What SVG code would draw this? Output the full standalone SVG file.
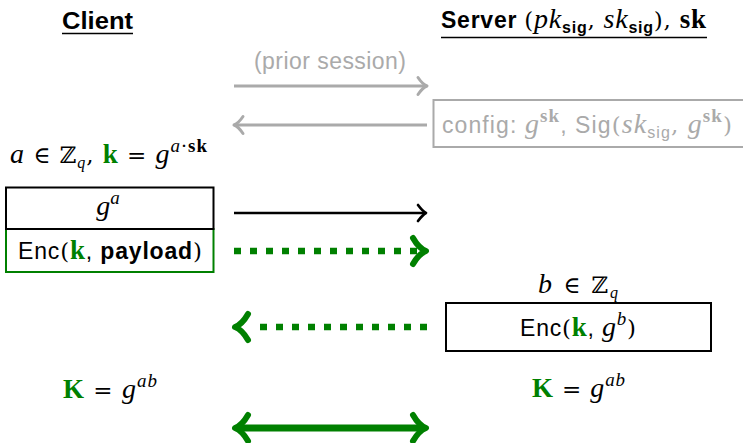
<svg xmlns="http://www.w3.org/2000/svg" width="743" height="443" viewBox="0 0 743 443">
  <style>
    text { font-family: "Liberation Sans", Arial, sans-serif; font-size: 23px; fill: #000; }
    .bsans { font-family: "Liberation Sans", Arial, sans-serif; font-weight: bold; }
    .mi { font-family: "Liberation Serif", "Times New Roman", serif; font-style: italic; font-size: 28px; }
    .mb { font-family: "Liberation Serif", "Times New Roman", serif; font-weight: bold; font-size: 27px; }
    .mr { font-family: "DejaVu Serif", serif; font-size: 23px; }
    .sup { font-size: 19px; }
    .sub { font-size: 16px; }
    .grn { fill: #008000; }
    .gry { fill: #aaaaaa; }
    .box { fill: #fff; stroke: #000; stroke-width: 2; }
    .box-g { fill: #fff; stroke: #008000; stroke-width: 2; }
    .box-gray { fill: #fff; stroke: #aaaaaa; stroke-width: 2; }
    .rule { stroke: #000; stroke-width: 1.6; }
    .ln-gray { stroke: #aaaaaa; stroke-width: 3; fill: none; }
    .ln-black { stroke: #000; stroke-width: 2.7; fill: none; }
    .ln-dot { stroke: #008000; stroke-width: 6.5; fill: none; stroke-dasharray: 7 9; }
    .ln-green { stroke: #008000; stroke-width: 7; fill: none; }
    .hd { fill: none; stroke-linecap: round; stroke-linejoin: round; }
  </style>
  <defs>
    <!-- open curved arrow tips, pointing right, tip at origin -->
    <path id="tip-gray" class="hd" d="M-9,-8.5 C-6,-4 -2.5,-1 0,0 C-2.5,1 -6,4 -9,8.5" stroke="#aaaaaa" stroke-width="3"/>
    <path id="tip-black" class="hd" d="M-8,-8 C-5,-4 -2,-1 0,0 C-2,1 -5,4 -8,8" stroke="#000" stroke-width="2.7"/>
    <path id="tip-green" class="hd" d="M-13,-13 C-9,-6 -4,-1.5 0,0 C-4,1.5 -9,6 -13,13" stroke="#008000" stroke-width="6"/>
  </defs>

  <!-- column headings -->
  <g id="client-title">
    <text x="97.5" y="29" text-anchor="middle" class="bsans" textLength="71" lengthAdjust="spacingAndGlyphs">Client</text>
    <line class="rule" x1="62" y1="33.5" x2="133" y2="33.5"/>
  </g>
  <g id="server-title">
    <text x="441" y="28" textLength="265" lengthAdjust="spacing"><tspan class="bsans">Server </tspan><tspan class="mr">(</tspan><tspan class="mi">pk</tspan><tspan class="bsans sub" dy="5">sig</tspan><tspan class="mr" dy="-5">, </tspan><tspan class="mi">sk</tspan><tspan class="bsans sub" dy="5">sig</tspan><tspan class="mr" dy="-5">), </tspan><tspan class="mb">sk</tspan></text>
    <line class="rule" x1="441" y1="37.5" x2="707" y2="37.5"/>
  </g>

  <!-- prior session -->
  <g id="prior-label">
    <text x="330" y="69" text-anchor="middle" class="gry" textLength="152" lengthAdjust="spacing">(prior session)</text>
  </g>
  <g id="config">
    <rect class="box-gray" x="433.5" y="100" width="312" height="47"/>
    <text x="442" y="133" class="gry" textLength="290" lengthAdjust="spacing"><tspan>config: </tspan><tspan class="mi">g</tspan><tspan class="mb sup" dy="-11">sk</tspan><tspan dy="11">, Sig</tspan><tspan class="mr">(</tspan><tspan class="mi">sk</tspan><tspan class="sub" dy="5">sig</tspan><tspan class="mr" dy="-5">, </tspan><tspan class="mi">g</tspan><tspan class="mb sup" dy="-11">sk</tspan><tspan class="mr" dy="11">)</tspan></text>
  </g>

  <!-- client side -->
  <g id="client-setup">
    <text x="10" y="163" textLength="197" lengthAdjust="spacing"><tspan class="mi">a</tspan><tspan class="mr"> ∈ ℤ</tspan><tspan class="mi sub" dy="5">q</tspan><tspan class="mr" dy="-5">, </tspan><tspan class="mb grn">k</tspan><tspan class="mr"> = </tspan><tspan class="mi">g</tspan><tspan class="sup" dy="-11"><tspan class="mi sup">a</tspan><tspan class="mr sup">·</tspan><tspan class="mb sup">sk</tspan></tspan></text>
  </g>
  <g id="client-payload">
    <rect class="box-g" x="6" y="229" width="207.5" height="43"/>
    <text x="110" y="259" text-anchor="middle" textLength="184" lengthAdjust="spacing"><tspan>Enc</tspan><tspan class="mr">(</tspan><tspan class="mb grn">k</tspan><tspan>, </tspan><tspan class="bsans">payload</tspan><tspan class="mr">)</tspan></text>
  </g>
  <g id="client-share">
    <rect class="box" x="6" y="187.5" width="207.5" height="41.5"/>
    <text x="108" y="215" text-anchor="middle"><tspan class="mi">g</tspan><tspan class="mi sup" dy="-11">a</tspan></text>
  </g>
  <g id="client-key">
    <text x="110" y="398" text-anchor="middle" textLength="94" lengthAdjust="spacing"><tspan class="mb grn" font-size="28">K</tspan><tspan class="mr"> = </tspan><tspan class="mi">g</tspan><tspan class="mi sup" dy="-11">ab</tspan></text>
  </g>

  <!-- server side -->
  <g id="server-setup">
    <text x="578" y="293" text-anchor="middle" textLength="80" lengthAdjust="spacing"><tspan class="mi">b</tspan><tspan class="mr"> ∈ ℤ</tspan><tspan class="mi sub" dy="5">q</tspan></text>
  </g>
  <g id="server-reply">
    <rect class="box" x="446" y="303" width="265" height="48"/>
    <text x="578" y="336" text-anchor="middle" textLength="116" lengthAdjust="spacing"><tspan>Enc</tspan><tspan class="mr">(</tspan><tspan class="mb grn">k</tspan><tspan>, </tspan><tspan class="mi">g</tspan><tspan class="mi sup" dy="-11">b</tspan><tspan class="mr" dy="11">)</tspan></text>
  </g>
  <g id="server-key">
    <text x="578.5" y="397" text-anchor="middle" textLength="93" lengthAdjust="spacing"><tspan class="mb grn" font-size="28">K</tspan><tspan class="mr"> = </tspan><tspan class="mi">g</tspan><tspan class="mi sup" dy="-11">ab</tspan></text>
  </g>

  <!-- message connectors -->
  <g id="connectors">
    <line class="ln-gray" x1="234" y1="86" x2="425" y2="86"/>
    <use href="#tip-gray" transform="translate(427,86)"/>
    <line class="ln-gray" x1="427" y1="125" x2="236" y2="125"/>
    <use href="#tip-gray" transform="translate(234,125) rotate(180)"/>
    <line class="ln-black" x1="234" y1="213" x2="424" y2="213"/>
    <use href="#tip-black" transform="translate(426,213)"/>
    <line class="ln-dot" x1="234" y1="251" x2="418" y2="251"/>
    <use href="#tip-green" transform="translate(426,251)"/>
    <line class="ln-dot" x1="427" y1="327" x2="258" y2="327"/>
    <use href="#tip-green" transform="translate(235,327) rotate(180)"/>
    <line class="ln-green" x1="239" y1="428" x2="422" y2="428"/>
    <use href="#tip-green" transform="translate(426,428)"/>
    <use href="#tip-green" transform="translate(235,428) rotate(180)"/>
  </g>
</svg>
